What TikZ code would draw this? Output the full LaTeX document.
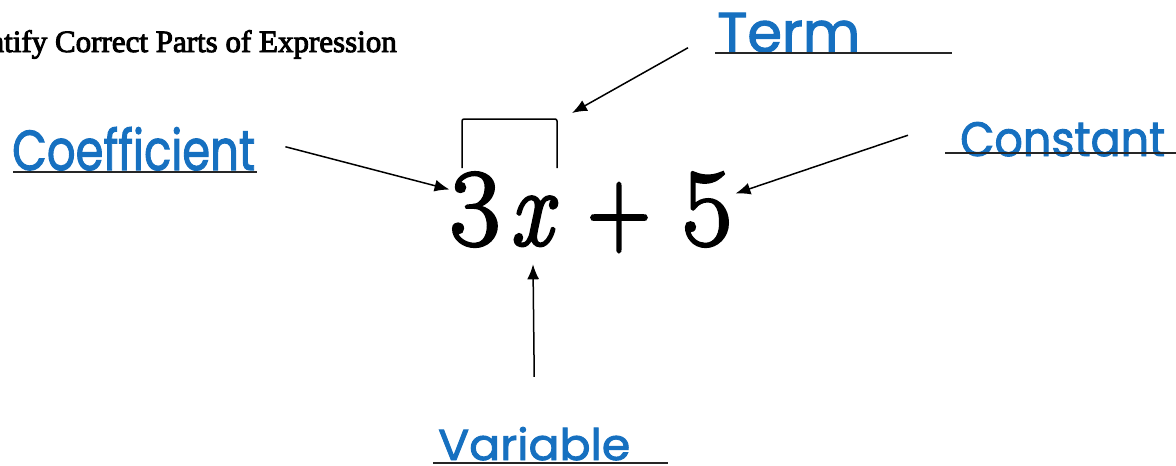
\documentclass[tikz,border=0pt]{standalone}
\usepackage{fix-cm}
\usepackage{fontspec}
\usetikzlibrary{arrows.meta}
\newfontfamily\handfont[FakeBold=2]{Poppins}
\newfontfamily\titlefont[FakeBold=3]{Liberation Serif}
\newfontfamily\exprfont[FakeBold=2.5]{Latin Modern Roman}
\definecolor{inkblue}{RGB}{22,112,192}
\newcommand{\handlabel}[3]{\resizebox{#1}{#2}{\handfont #3}}

\begin{document}
\begin{tikzpicture}[x=1pt, y=-1pt,
    mathbit/.style={anchor=base, inner sep=0pt, font=\exprfont\fontsize{110}{110}\selectfont},
    hand/.style={anchor=base west, inner sep=0pt, text=inkblue},
    arr/.style={-{Latex[length=15pt,width=12pt]}, line width=1.5pt},
    uline/.style={line width=1.2pt, black!85}]
  \useasboundingbox (0,0) rectangle (1176,466);
  \clip (0,0) rectangle (1176,466);
  % Title, cut off at the left edge
  \node[anchor=base east, inner sep=0pt, font=\titlefont\fontsize{31}{31}\selectfont] (title) at (397,52) {Identify Correct Parts of Expression};
  % The expression, one node per symbol
  \node[mathbit] (three) at (475,245) {3};
  \node[mathbit] (var) at (531,245) {\scalebox{0.85}[1]{\itshape x}};
  \node[mathbit] (plus) at (619,245) {\scalebox{0.8}[1]{+}};
  \node[mathbit] (five) at (707,245) {5};
  % Bracket over the term
  \coordinate (brk) at (557,119);
  \draw[line width=1.5pt, rounded corners=2pt] (462,168) -- (462,119) -- (brk) -- (557,168);
  % Handwritten answers
  \node[hand] (term) at (717,52) {\handlabel{143pt}{39pt}{Term}};
  \node[hand] (coef) at (12,170) {\handlabel{243pt}{43pt}{Coefficient}};
  \node[hand] (const) at (960,156) {\handlabel{205pt}{34pt}{Constant}};
  \node[hand] (vari) at (438,460) {\handlabel{192pt}{33pt}{Variable}};
  % Answer lines
  \draw[uline] (715,53) -- (952,53);
  \draw[uline] (13,172) -- (257,172);
  \draw[uline] (945,153) -- (1176,153);
  \draw[uline] (433,463) -- (668,463);
  % Arrows
  \draw[arr] ([xshift=30pt, yshift=2pt]coef.east) -- ([yshift=20pt]three.west);
  \draw[arr] ([xshift=-29pt, yshift=-15pt]term.west) -- ([xshift=15pt, yshift=6pt]brk);
  \draw[arr] ([xshift=-52pt, yshift=4pt]const.west) -- ([xshift=3pt, yshift=16pt]five.east);
  \draw[arr] ([yshift=50pt]vari.north) -- ([xshift=2pt, yshift=-18pt]var.south);
\end{tikzpicture}
\end{document}
